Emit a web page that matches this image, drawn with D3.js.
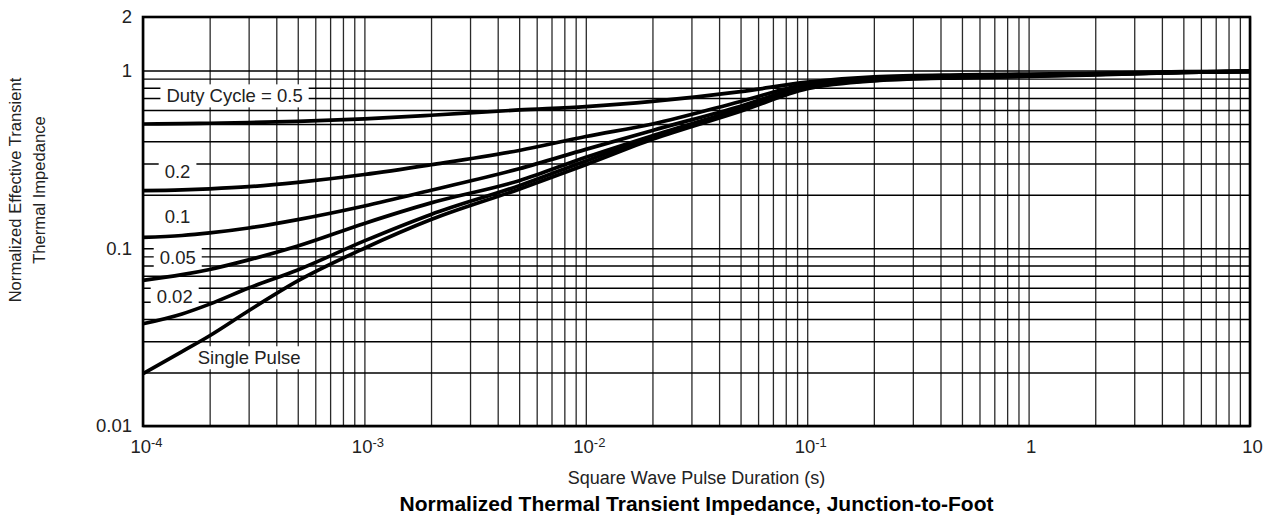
<!DOCTYPE html>
<html>
<head>
<meta charset="utf-8">
<script src="https://cdn.jsdelivr.net/npm/d3@7"></script>
<style>
  body { margin: 0; background: #fff; }
  text { font-family: "Liberation Sans", Arial, Helvetica, sans-serif; fill: #222; }
</style>
</head>
<body>
<svg width="1273" height="519"></svg>
<script>
(function(d3) {
  'use strict';

  const pulseTimes = [1e-4, 1.5e-4, 2e-4, 3e-4, 5e-4, 1e-3, 2e-3, 5e-3, 1e-2,
    2e-2, 5e-2, 0.1, 0.2, 0.5, 1, 2, 5, 10];

  // Normalized effective transient thermal impedance per duty cycle.
  const duty50 = [0.50, 0.502, 0.505, 0.51, 0.518, 0.535, 0.56, 0.60, 0.627,
    0.67, 0.76, 0.86, 0.92, 0.945, 0.955, 0.965, 0.985, 0.99];
  const duty20 = [0.211, 0.213, 0.216, 0.222, 0.235, 0.26, 0.295, 0.355, 0.425,
    0.50, 0.67, 0.84, 0.90, 0.93, 0.945, 0.96, 0.98, 0.99];
  const duty10 = [0.115, 0.118, 0.122, 0.13, 0.145, 0.173, 0.212, 0.28, 0.36,
    0.46, 0.63, 0.82, 0.89, 0.925, 0.94, 0.955, 0.98, 0.99];
  const duty05 = [0.066, 0.071, 0.076, 0.086, 0.103, 0.138, 0.18, 0.24, 0.325,
    0.43, 0.61, 0.81, 0.885, 0.92, 0.935, 0.95, 0.975, 0.99];
  const duty02 = [0.0376, 0.0427, 0.0485, 0.0597, 0.0755, 0.11, 0.155, 0.225,
    0.31, 0.42, 0.60, 0.80, 0.88, 0.915, 0.93, 0.95, 0.975, 0.99];
  const singlePulse = [0.0197, 0.0262, 0.0322, 0.0445, 0.0655, 0.10, 0.145,
    0.215, 0.295, 0.41, 0.59, 0.79, 0.875, 0.91, 0.925, 0.945, 0.975, 0.99];

  const seriesValues = [duty50, duty20, duty10, duty05, duty02, singlePulse];

  // Curve labels and the (time, impedance) spot where each one sits.
  const curveLabels = ['Duty Cycle = 0.5', '0.2', '0.1', '0.05', '0.02', 'Single Pulse'];
  const labelTimes = [1.276e-4, 1.253e-4, 1.253e-4, 1.19e-4, 1.153e-4, 1.766e-4];
  const labelValues = [0.72, 0.27, 0.15, 0.089, 0.0538, 0.0242];

  // Axis ticks.
  const xTickValues = [1e-4, 1e-3, 1e-2, 1e-1, 1, 10];
  const xTickBases = ['10', '10', '10', '10', '1', '10'];
  const xTickExps = ['-4', '-3', '-2', '-1', '', ''];
  const yTickValues = [0.01, 0.1, 1, 2];
  const yTickLabels = ['0.01', '0.1', '1', '2'];

  const xTitle = 'Square Wave Pulse Duration (s)';
  const yTitle = ['Normalized Effective Transient', 'Thermal Impedance'];
  const chartTitle = 'Normalized Thermal Transient Impedance, Junction-to-Foot';

  const svg = d3.select('svg');
  const margin = {top: 17, right: 23, bottom: 93, left: 143};
  const width = +svg.attr('width') - margin.left - margin.right;
  const height = +svg.attr('height') - margin.top - margin.bottom;

  const xScale = d3.scaleLog().domain([1e-4, 10]).range([0, width]);
  const yScale = d3.scaleLog().domain([0.01, 2]).range([height, 0]);

  const g = svg.append('g')
      .attr('transform', `translate(${margin.left},${margin.top})`);

  // Grid: every 1..9 step of each decade.
  const xGrid = [];
  d3.range(-4, 1).forEach(function(e) {
    d3.range(1, 10).forEach(function(k) {
      xGrid.push(k * Math.pow(10, e));
    });
  });
  xGrid.push(10);
  const yGrid = [];
  d3.range(-2, 0).forEach(function(e) {
    d3.range(1, 10).forEach(function(k) {
      yGrid.push(k * Math.pow(10, e));
    });
  });
  yGrid.push(1);

  const xGridG = g.append('g')
      .attr('class', 'grid')
      .attr('transform', `translate(0,${height})`)
      .call(d3.axisBottom(xScale).tickValues(xGrid).tickSize(-height).tickFormat(''));
  xGridG.select('.domain').remove();
  xGridG.selectAll('line').attr('stroke', '#2a2a2a').attr('stroke-width', 1.3);

  const yGridG = g.append('g')
      .attr('class', 'grid')
      .call(d3.axisLeft(yScale).tickValues(yGrid).tickSize(-width).tickFormat(''));
  yGridG.select('.domain').remove();
  yGridG.selectAll('line').attr('stroke', '#000').attr('stroke-width', 1.4);

  // Curve labels on white boxes (boxes hide the grid, not the curves).
  const labelG = g.append('g').selectAll('g')
      .data(curveLabels)
      .enter().append('g')
      .attr('transform', function(d, i) {
        return `translate(${xScale(labelTimes[i])},${yScale(labelValues[i])})`;
      });
  const labelText = labelG.append('text')
      .attr('dy', '0.35em')
      .style('font-size', '18.5px')
      .text(function(d) { return d; });
  labelG.insert('rect', 'text')
      .attr('fill', '#fff')
      .each(function(d, i) {
        const box = labelText.nodes()[i].getBBox();
        d3.select(this)
            .attr('x', box.x - 6)
            .attr('y', -11.5)
            .attr('width', box.width + 12)
            .attr('height', 23);
      });

  // Curves.
  const line = d3.line()
      .x(function(d) { return xScale(d[0]); })
      .y(function(d) { return yScale(d[1]); })
      .curve(d3.curveMonotoneX);

  g.append('g').selectAll('path')
      .data(seriesValues)
      .enter().append('path')
      .attr('fill', 'none')
      .attr('stroke', '#000')
      .attr('stroke-width', 3.7)
      .attr('stroke-linejoin', 'round')
      .attr('d', function(values) {
        return line(pulseTimes.map(function(t, i) { return [t, values[i]]; }));
      });

  // Frame.
  g.append('rect')
      .attr('width', width)
      .attr('height', height)
      .attr('fill', 'none')
      .attr('stroke', '#000')
      .attr('stroke-width', 2.6);

  // X tick labels with superscript exponents.
  const xAxisG = g.append('g')
      .attr('transform', `translate(0,${height})`)
      .call(d3.axisBottom(xScale).tickValues(xTickValues).tickSize(0).tickPadding(14)
          .tickFormat(''));
  xAxisG.select('.domain').remove();
  xAxisG.selectAll('text').each(function(d, i) {
    const t = d3.select(this)
        .style('font-size', '18.5px')
        .attr('fill', null)
        .attr('dx', xTickExps[i] ? 3 : 2);
    t.append('tspan').text(xTickBases[i]);
    if (xTickExps[i]) {
      t.append('tspan')
          .attr('dy', '-0.45em')
          .style('font-size', '13px')
          .text(xTickExps[i]);
    }
  });

  const yAxisG = g.append('g')
      .call(d3.axisLeft(yScale).tickValues(yTickValues).tickSize(0).tickPadding(11)
          .tickFormat(function(d, i) { return yTickLabels[i]; }));
  yAxisG.select('.domain').remove();
  yAxisG.selectAll('text').attr('fill', null).style('font-size', '18.5px');

  // Titles.
  svg.append('text')
      .attr('x', margin.left + width / 2)
      .attr('y', 478)
      .attr('text-anchor', 'middle')
      .attr('dy', '0.35em')
      .style('font-size', '18px')
      .text(xTitle);

  svg.append('text')
      .attr('x', margin.left + width / 2)
      .attr('y', 504)
      .attr('text-anchor', 'middle')
      .attr('dy', '0.35em')
      .style('font-size', '21px')
      .style('font-weight', 'bold')
      .style('fill', '#000')
      .text(chartTitle);

  svg.append('g').selectAll('text')
      .data(yTitle)
      .enter().append('text')
      .attr('transform', function(d, i) {
        return `translate(${15 + i * 24},190) rotate(-90)`;
      })
      .attr('text-anchor', 'middle')
      .attr('dy', '0.35em')
      .style('font-size', '16.6px')
      .text(function(d) { return d; });
}(d3));
</script>
</body>
</html>
